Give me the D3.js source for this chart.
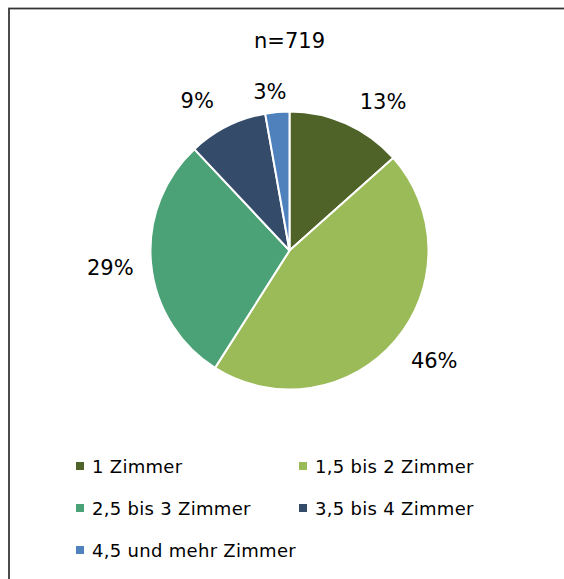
<!DOCTYPE html>
<html>
<head>
<meta charset="utf-8">
<script src="https://cdn.jsdelivr.net/npm/d3@7"></script>
<style>
  html, body { margin: 0; padding: 0; background: #fff; }
  svg { display: block; }
  text { font-family: "DejaVu Sans", sans-serif; fill: #000; }
</style>
</head>
<body>
<svg id="chart" width="564" height="579"></svg>
<script>
// ---- data ----
const title = "n=719";
const categories = ["1 Zimmer", "1,5 bis 2 Zimmer", "2,5 bis 3 Zimmer", "3,5 bis 4 Zimmer", "4,5 und mehr Zimmer"];
const values = [13.4, 45.6, 29.0, 9.2, 2.8];
const colors = ["#4f6228", "#9bbb59", "#4aa276", "#344b6a", "#4f81bd"];

// ---- layout (label placement like Excel best-fit) ----
const labelAngleShift = [8, -3, 0, -5, -2];   // degrees
const labelRadius = [176, 182, 180, 176, 160];

const svg = d3.select("#chart");

// outer frame (extends beyond the visible area on right/bottom)
svg.append("rect")
  .attr("x", 9).attr("y", 8.5)
  .attr("width", 600).attr("height", 600)
  .attr("fill", "none").attr("stroke", "#333").attr("stroke-width", 1.75);

svg.append("text")
  .attr("x", 289.5).attr("y", 48)
  .attr("text-anchor", "middle")
  .style("font-size", "21px")
  .text(title);

const cx = 289.5, cy = 250.5, R = 139;
const g = svg.append("g").attr("transform", `translate(${cx},${cy})`);

const pie = d3.pie().sort(null).value(d => d);
const arcs = pie(values);
const arc = d3.arc().innerRadius(0).outerRadius(R);

g.selectAll("path.slice")
  .data(arcs)
  .join("path")
  .attr("class", "slice")
  .attr("d", arc)
  .attr("fill", (d, i) => colors[i])
  .attr("stroke", "#fff")
  .attr("stroke-width", 2)
  .attr("stroke-linejoin", "round");

g.selectAll("text.lbl")
  .data(arcs)
  .join("text")
  .attr("class", "lbl")
  .attr("transform", (d, i) => {
    const a = (d.startAngle + d.endAngle) / 2 + labelAngleShift[i] * Math.PI / 180;
    const r = labelRadius[i];
    return `translate(${r * Math.sin(a)},${-r * Math.cos(a)})`;
  })
  .attr("text-anchor", "middle")
  .attr("dy", "0.36em")
  .style("font-size", "21px")
  .text(d => d3.format(".0f")(d.value) + "%");

// legend
const legX = [76, 299];
const legY0 = 466, legDy = 42;
const leg = svg.append("g");
categories.forEach((c, i) => {
  const col = i % 2, row = Math.floor(i / 2);
  const x = legX[col], y = legY0 + row * legDy;
  leg.append("rect")
    .attr("x", x).attr("y", y - 4)
    .attr("width", 8).attr("height", 8)
    .attr("fill", colors[i]);
  leg.append("text")
    .attr("x", x + 16).attr("y", y + 6.5)
    .style("font-size", "18px")
    .style("letter-spacing", "0.3px")
    .text(c);
});
</script>
</body>
</html>
